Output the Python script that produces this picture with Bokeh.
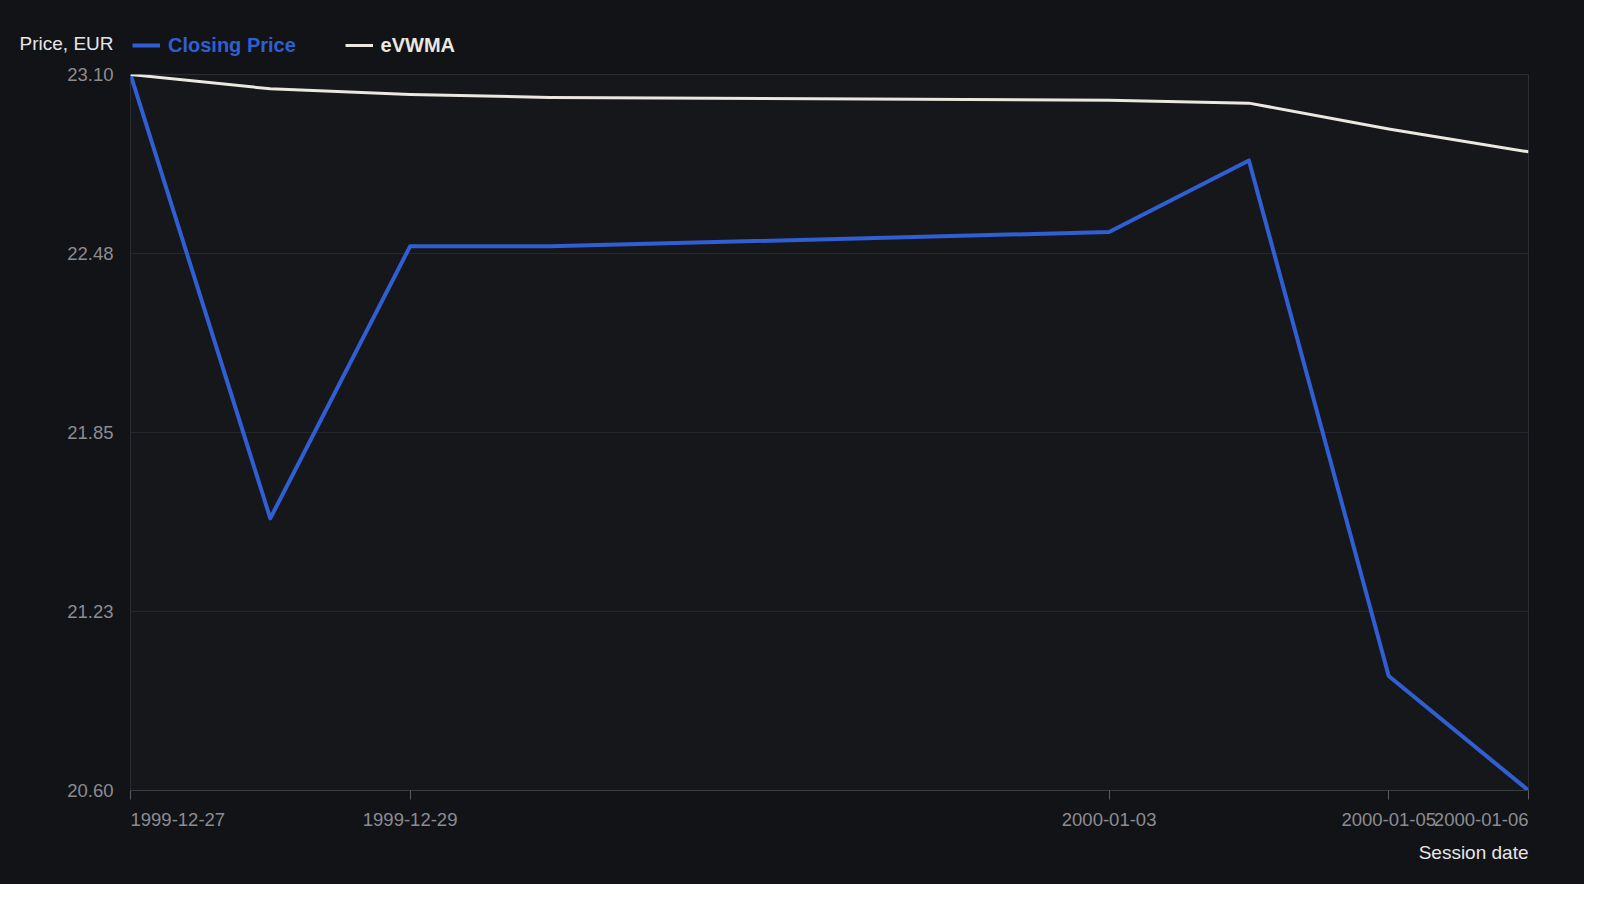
from datetime import datetime
from bokeh.plotting import figure
from bokeh.layouts import column
from bokeh.core.properties import value
from bokeh.models import (Range1d, FixedTicker, Legend, LegendItem, DatetimeTickFormatter)
from bokeh.embed import file_html
from bokeh.resources import INLINE

# ---- data ----
dates = ["1999-12-27", "1999-12-28", "1999-12-29", "1999-12-30",
         "2000-01-03", "2000-01-04", "2000-01-05", "2000-01-06"]
closing_price = [23.10, 21.55, 22.50, 22.50, 22.55, 22.80, 21.00, 20.60]
evwma = [23.10, 23.05, 23.03, 23.02, 23.01, 23.00, 22.91, 22.83]
x_tick_dates = ["1999-12-27", "1999-12-29", "2000-01-03", "2000-01-05", "2000-01-06"]
y_ticks = [20.60, 21.225, 21.85, 22.475, 23.10]
y_tick_labels = ["20.60", "21.23", "21.85", "22.48", "23.10"]
series_names = ["Closing Price", "eVWMA"]
y_title = "Price, EUR"
x_title = "Session date"


def ms(s):
    return int((datetime.strptime(s, "%Y-%m-%d") - datetime(1970, 1, 1)).total_seconds() * 1000)


x = [ms(d) for d in dates]
x_ticks = [ms(d) for d in x_tick_dates]

FONT = "Liberation Sans"
BLUE = "#2f5fd2"
WHITE = "#ebe8e0"
GREY = "#8b8d92"
LIGHT = "#e6e6e6"
BG = "#121317"
W = 1584
HEAD_H = 62
MAIN_H = 738
FOOT_H = 84
FRAME_W = 1398

x_range = Range1d(x[0], x[-1])

# ---------- header: y title + legend ----------
head = figure(width=W, height=HEAD_H, x_range=Range1d(0, FRAME_W), y_range=Range1d(0, HEAD_H),
              output_backend="svg", toolbar_location=None, x_axis_location=None,
              min_border_left=130, min_border_right=56, min_border_top=0, min_border_bottom=0,
              styles={"background-color": BG})
head.border_fill_color = BG
head.background_fill_color = BG
head.outline_line_color = BG
head.outline_line_width = 3
head.grid.visible = False

hy = head.yaxis[0]
title_pos = HEAD_H - 43.2
hy.ticker = FixedTicker(ticks=[title_pos], minor_ticks=[])
hy.major_label_overrides = {title_pos: y_title}
hy.axis_line_color = None
hy.major_tick_line_color = None
hy.minor_tick_line_color = None
hy.major_tick_out = 0
hy.major_tick_in = 0
hy.major_label_standoff = 17
hy.major_label_text_font = FONT
hy.major_label_text_font_size = "19px"
hy.major_label_text_color = LIGHT

# legend-only copies of the two series (their points lie outside this strip's ranges)
h_close = head.line(x, closing_price, line_color=BLUE, line_width=4)
h_ev = head.line(x, evwma, line_color=WHITE, line_width=3)

for rend, name, col, loc in [(h_close, series_names[0], BLUE, (2, 4.8)),
                             (h_ev, series_names[1], WHITE, (214.6, 4.8))]:
    lg = Legend(items=[LegendItem(label=name, renderers=[rend])], location=loc,
                orientation="horizontal", padding=0, margin=0, spacing=0,
                glyph_width=28, glyph_height=24, label_height=24, label_standoff=8,
                border_line_color=None, background_fill_alpha=0,
                label_text_font=FONT, label_text_font_size="20px",
                label_text_font_style="bold", label_text_color=col)
    head.add_layout(lg, "center")

# ---------- main chart ----------
p = figure(width=W, height=MAIN_H, x_axis_type="datetime",
           x_range=x_range, y_range=Range1d(y_ticks[0], y_ticks[-1]),
           output_backend="svg", toolbar_location=None,
           min_border_left=130, min_border_right=56, min_border_top=12, min_border_bottom=10,
           styles={"background-color": BG})

p.border_fill_color = BG
p.background_fill_color = "#16171b"
p.outline_line_color = "#2c2d32"
p.outline_line_width = 1

p.line(x, closing_price, line_color=BLUE, line_width=4, line_join="round")
p.line(x, evwma, line_color=WHITE, line_width=3, line_join="round")

xa = p.xaxis[0]
xa.ticker = FixedTicker(ticks=x_ticks, minor_ticks=[])
xa.formatter = DatetimeTickFormatter(days="%Y-%m-%d", months="%Y-%m-%d", hours="%Y-%m-%d",
                                     years="%Y-%m-%d")
xa.major_label_overrides = {t: "" for t in x_ticks}   # labels are set in the strip below
xa.axis_line_color = "#3b3c41"
xa.major_tick_line_color = "#5a5c61"
xa.major_tick_out = 9
xa.major_tick_in = 0
xa.minor_tick_line_color = None
xa.major_label_standoff = 0
xa.major_label_text_font_size = "1px"

ya = p.yaxis[0]
ya.ticker = FixedTicker(ticks=y_ticks, minor_ticks=[])
ya.major_label_overrides = {t: lab for t, lab in zip(y_ticks, y_tick_labels)}
ya.axis_line_color = None
ya.major_tick_line_color = None
ya.minor_tick_line_color = None
ya.major_tick_out = 0
ya.major_tick_in = 0
ya.major_label_standoff = 17
ya.major_label_text_font = FONT
ya.major_label_text_font_size = "18.5px"
ya.major_label_text_color = GREY

p.xgrid.visible = False
p.ygrid.grid_line_color = "#26272c"
p.ygrid.grid_line_width = 1

# ---------- footer: x tick labels + x title ----------
foot = figure(width=W, height=FOOT_H, x_axis_type="datetime", x_range=x_range,
              y_range=Range1d(0, FOOT_H), output_backend="svg", toolbar_location=None,
              x_axis_location=None, y_axis_location=None,
              min_border_left=130, min_border_right=56, min_border_top=0, min_border_bottom=0,
              styles={"background-color": BG})
foot.border_fill_color = BG
foot.background_fill_color = BG
foot.outline_line_color = BG
foot.outline_line_width = 3
foot.grid.visible = False

lab_y = FOOT_H - 19
tick_style = dict(text_baseline="middle", text_font=value(FONT), text_font_size="18.5px",
                  text_color=GREY)
foot.text(x=x_ticks[:1], y=[lab_y], text=x_tick_dates[:1], text_align="left", **tick_style)
foot.text(x=x_ticks[1:-1], y=[lab_y] * len(x_ticks[1:-1]), text=x_tick_dates[1:-1],
          text_align="center", **tick_style)
foot.text(x=x_ticks[-1:], y=[lab_y], text=x_tick_dates[-1:], text_align="right", **tick_style)
foot.text(x=x[-1:], y=[FOOT_H - 52], text=[x_title], text_align="right", text_baseline="middle",
          text_font=value(FONT), text_font_size="19px", text_color=LIGHT)

layout = column(head, p, foot, spacing=0, styles={"background-color": BG})

open("out.html", "w").write(file_html(layout, INLINE))
